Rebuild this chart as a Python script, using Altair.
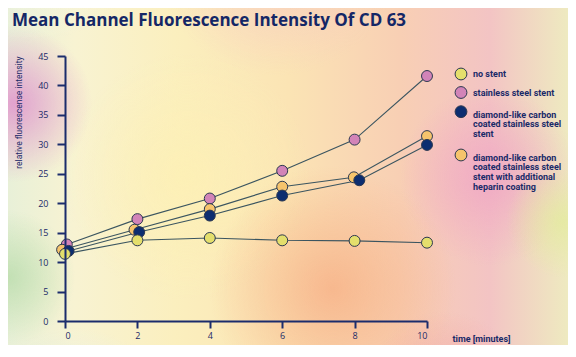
import altair as alt
import pandas as pd

# ---------------- data ----------------
title_text = "Mean Channel Fluorescence Intensity Of CD 63"
y_title = "relative fluorescense intensity"
x_title = "time [minutes]"

series_names = [
    "no stent",
    "stainless steel stent",
    "diamond-like carbon coated stainless steel stent",
    "diamond-like carbon coated stainless steel stent with additional heparin coating",
]
legend_lines = [
    ["no stent"],
    ["stainless steel stent"],
    ["diamond-like carbon", "coated stainless steel", "stent"],
    ["diamond-like carbon", "coated stainless steel", "stent with additional", "heparin coating"],
]
series_colors = ["#e4df6c", "#d284b8", "#0c2d70", "#f6c46c"]

time_no_stent = [0, 2, 4, 6, 8, 10]
no_stent = [11.4, 13.7, 14.1, 13.7, 13.6, 13.3]
time_steel = [0.05, 2, 4, 6, 8, 10]
steel = [13.0, 17.3, 20.8, 25.5, 30.8, 41.6]
time_dlc = [0.1, 2.05, 4, 6, 8.13, 10]
dlc = [11.9, 15.1, 17.9, 21.3, 23.9, 29.9]
time_hep = [-0.08, 1.92, 4, 6, 7.98, 10]
hep = [12.1, 15.5, 19.0, 22.8, 24.4, 31.4]

y_ticks = [0, 5, 10, 15, 20, 25, 30, 35, 40, 45]
x_ticks = [0, 2, 4, 6, 8, 10]

# ---------------- tables ----------------
series_data = {
    series_names[0]: (time_no_stent, no_stent),
    series_names[1]: (time_steel, steel),
    series_names[2]: (time_dlc, dlc),
    series_names[3]: (time_hep, hep),
}
draw_order = [1, 3, 2, 0]  # bottom -> top
rows = []
for i in draw_order:
    name = series_names[i]
    ts, vs = series_data[name]
    for t, v in zip(ts, vs):
        rows.append({"series": name, "time": t, "value": v})
df = pd.DataFrame(rows)

legend_df = pd.DataFrame({
    "series": series_names,
    "label": ["\n".join(l) for l in legend_lines],
})

W, H = 362, 265
PAD = {"left": 57, "top": 48, "right": 141, "bottom": 28}

NAVY = "#1b2c6c"
TEXT_NAVY = "#1a2a68"
SANS = "Roboto"

color_scale = alt.Scale(domain=series_names, range=series_colors)

# ---------------- background ----------------
one = pd.DataFrame({"k": [0]})
BX0, BX1, BY0, BY1 = -57, 503, -48, 289


def bg_rect(fill):
    return alt.Chart(one).mark_rect(fill=fill, stroke=None).encode(
        x=alt.value(BX0), x2=alt.value(BX1), y=alt.value(BY0), y2=alt.value(BY1)
    )


base_grad = alt.LinearGradient(
    gradient="linear", x1=0, y1=0, x2=1, y2=0,
    stops=[
        alt.GradientStop(color="#e8f0d8", offset=0),
        alt.GradientStop(color="#f8f3d2", offset=0.12),
        alt.GradientStop(color="#fbefbe", offset=0.3),
        alt.GradientStop(color="#fbe4b4", offset=0.5),
        alt.GradientStop(color="#f8cfb4", offset=0.7),
        alt.GradientStop(color="#f3c4c4", offset=0.86),
        alt.GradientStop(color="#eeeac0", offset=1),
    ],
)

blobs = [
    (0.04, 0.04, 0.22, (242, 246, 232), 0.9),
    (0.01, 0.37, 0.14, (226, 162, 206), 1.0),
    (0.00, 0.68, 0.12, (190, 222, 176), 0.9),
    (0.12, 0.95, 0.18, (226, 238, 236), 0.95),
    (0.48, 0.10, 0.22, (246, 196, 196), 0.8),
    (0.32, 0.50, 0.22, (253, 240, 180), 0.8),
    (0.58, 0.70, 0.22, (247, 178, 136), 0.85),
    (0.86, 0.50, 0.16, (240, 166, 196), 0.85),
    (0.78, 0.88, 0.14, (240, 166, 164), 0.75),
    (0.99, 0.58, 0.10, (228, 234, 160), 0.85),
    (0.98, 0.96, 0.12, (246, 236, 190), 0.8),
]

layers = [bg_rect(base_grad)]
for cx, cy, r, (cr, cg, cb), a in blobs:
    g = alt.RadialGradient(
        gradient="radial", x1=cx, y1=cy, r1=0, x2=cx, y2=cy, r2=r,
        stops=[
            alt.GradientStop(color=f"rgba({cr},{cg},{cb},{a})", offset=0),
            alt.GradientStop(color=f"rgba({cr},{cg},{cb},0)", offset=1),
        ],
    )
    layers.append(bg_rect(g))

# ---------------- data marks ----------------
x_axis = alt.Axis(
    values=x_ticks, title=x_title, grid=False, zindex=1, labelOverlap=False,
    domainColor=NAVY, domainWidth=2, tickColor=NAVY, tickWidth=2, tickSize=7,
    labelColor=TEXT_NAVY, labelFont="Open Sans", labelFontSize=9, labelPadding=3,
    titleColor=TEXT_NAVY, titleFont=SANS, titleFontSize=9, titleFontWeight="bold",
    titleX=387, titleY=17, titleAlign="left", titleBaseline="middle", titleAnchor="start",
)
y_axis = alt.Axis(
    values=y_ticks, title=y_title, grid=False, zindex=1, labelOverlap=False,
    domainColor=NAVY, domainWidth=2, tickColor=NAVY, tickWidth=2, tickSize=8,
    labelColor=TEXT_NAVY, labelFont="Open Sans", labelFontSize=9, labelPadding=9,
    titleColor=TEXT_NAVY, titleFont=SANS, titleFontSize=8.5, titleFontWeight="normal",
    titleAngle=270, titleX=-47, titleY=0, titleAlign="right", titleBaseline="middle",
)
x_scale = alt.Scale(domain=[0, 10], nice=False, zero=False)
y_scale = alt.Scale(domain=[0, 45], nice=False, zero=True)

lines = alt.Chart(df).mark_line(color="#3b5560", strokeWidth=1.1).encode(
    x=alt.X("time:Q", scale=x_scale, axis=x_axis),
    y=alt.Y("value:Q", scale=y_scale, axis=y_axis),
    detail="series:N",
)
points = alt.Chart(df).mark_point(
    filled=True, size=120, opacity=1, stroke="#2c3850", strokeWidth=1
).encode(
    x=alt.X("time:Q", scale=x_scale, axis=x_axis),
    y=alt.Y("value:Q", scale=y_scale, axis=y_axis),
    color=alt.Color("series:N", scale=color_scale, legend=None),
)
layers += [lines, points]

# ---------------- legend ----------------
leg_circle_x = 396
leg_text_x = 408
leg_circle_y = [18, 36.5, 55.7, 99]
leg_text_y = [20.5, 39.8, 61.5, 104.5]
for i, name in enumerate(series_names):
    c = alt.Chart(legend_df).transform_filter(alt.datum.series == name).mark_point(
        filled=True, size=140, opacity=1, stroke="#2c3850", strokeWidth=1
    ).encode(
        x=alt.value(leg_circle_x), y=alt.value(leg_circle_y[i]),
        color=alt.Color("series:N", scale=color_scale, legend=None),
    )
    t = alt.Chart(legend_df).transform_filter(alt.datum.series == name).mark_text(
        align="left", baseline="alphabetic", lineBreak="\n", lineHeight=9.7,
        font=SANS, fontSize=9, fontWeight="bold", color=TEXT_NAVY,
    ).encode(x=alt.value(leg_text_x), y=alt.value(leg_text_y[i]), text="label:N")
    layers += [c, t]

# ---------------- title ----------------
title_df = pd.DataFrame({"t": [title_text]})
title = alt.Chart(title_df).mark_text(
    align="left", baseline="alphabetic", font="Open Sans", fontSize=17,
    fontWeight="bold", color="#142766",
).encode(x=alt.value(-53), y=alt.value(-30), text="t:N")
layers.append(title)

chart = alt.layer(*layers).properties(
    width=W, height=H,
    autosize=alt.AutoSizeParams(type="none"),
    padding=PAD,
    background="white",
).configure_view(stroke=None)

chart.save("out.html", embed_options={"renderer": "svg", "actions": False})
